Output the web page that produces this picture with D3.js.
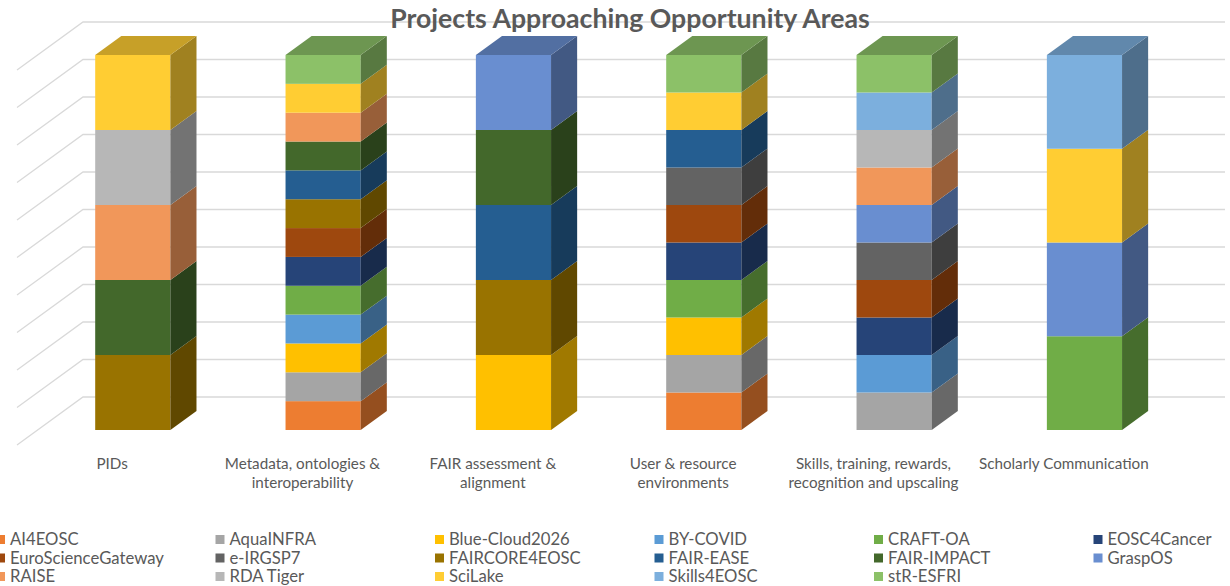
<!DOCTYPE html>
<html><head><meta charset="utf-8">
<script src="https://cdn.jsdelivr.net/npm/d3@7"></script>
<style>body{margin:0;background:#fff;} svg{display:block;}</style>
</head><body>
<svg id="chart" width="1230" height="586"></svg>
<script>
// ---------- DATA ----------
const categories = [
  "PIDs",
  "Metadata, ontologies & interoperability",
  "FAIR assessment & alignment",
  "User & resource environments",
  "Skills, training, rewards, recognition and upscaling",
  "Scholarly Communication"
];
const categoryLines = [
  ["PIDs"],
  ["Metadata, ontologies &", "interoperability"],
  ["FAIR assessment &", "alignment"],
  ["User & resource", "environments"],
  ["Skills, training, rewards,", "recognition and upscaling"],
  ["Scholarly Communication"]
];
const seriesNames = [
  "AI4EOSC", "AquaINFRA", "Blue-Cloud2026", "BY-COVID", "CRAFT-OA", "EOSC4Cancer",
  "EuroScienceGateway", "e-IRGSP7", "FAIRCORE4EOSC", "FAIR-EASE", "FAIR-IMPACT", "GraspOS",
  "RAISE", "RDA Tiger", "SciLake", "Skills4EOSC", "stR-ESFRI"
];
const seriesColors = [
  "#ED7D31", "#A5A5A5", "#FFC000", "#5B9BD5", "#70AD47", "#264478",
  "#9E480E", "#636363", "#997300", "#255E91", "#43682B", "#698ED0",
  "#F1975A", "#B7B7B7", "#FFCD33", "#7CAFDD", "#8CC168"
];
// values per category (order of categories)
const AI4EOSC            = [0, 1, 0, 1, 0, 0];
const AquaINFRA          = [0, 1, 0, 1, 1, 0];
const BlueCloud2026      = [0, 1, 1, 1, 0, 0];
const BYCOVID            = [0, 1, 0, 0, 1, 0];
const CRAFTOA            = [0, 1, 0, 1, 0, 1];
const EOSC4Cancer        = [0, 1, 0, 1, 1, 0];
const EuroScienceGateway = [0, 1, 0, 1, 1, 0];
const eIRGSP7            = [0, 0, 0, 1, 1, 0];
const FAIRCORE4EOSC      = [1, 1, 1, 0, 0, 0];
const FAIREASE           = [0, 1, 1, 1, 0, 0];
const FAIRIMPACT         = [1, 1, 1, 0, 0, 0];
const GraspOS            = [0, 0, 1, 0, 1, 1];
const RAISE              = [1, 1, 0, 0, 1, 0];
const RDATiger           = [1, 0, 0, 0, 1, 0];
const SciLake            = [1, 1, 0, 1, 0, 1];
const Skills4EOSC        = [0, 0, 0, 0, 1, 1];
const stRESFRI           = [0, 1, 0, 1, 1, 0];
const seriesValues = [AI4EOSC, AquaINFRA, BlueCloud2026, BYCOVID, CRAFTOA, EOSC4Cancer,
  EuroScienceGateway, eIRGSP7, FAIRCORE4EOSC, FAIREASE, FAIRIMPACT, GraspOS,
  RAISE, RDATiger, SciLake, Skills4EOSC, stRESFRI];
const tickValues = [0, 0.1, 0.2, 0.3, 0.4, 0.5, 0.6, 0.7, 0.8, 0.9, 1];
const titleText = "Projects Approaching Opportunity Areas";

// ---------- LAYOUT ----------
const svg = d3.select("#chart");
const FONT = "Lato, 'Liberation Sans', sans-serif";
const TEXT = "#595959";
const floor = {x0: 17, x1: 1159, dx: 66, dy: -48};   // front edge + full depth projection
const barT = [0.3125, 0.708];                          // bar depth range (0 front .. 1 back wall)

const x = d3.scaleBand().domain(categories).range([floor.x0, floor.x1])
  .paddingInner(0.605).paddingOuter(0.3025);
const y = d3.scaleLinear().domain([0, 1]).range([445, 70]);
const proj = (px, v, t) => [px + floor.dx * t, y(v) + floor.dy * t];

// gridlines (left wall + back wall)
const grid = svg.append("g").attr("stroke", "#D9D9D9").attr("stroke-width", 1.3).attr("fill", "none");
tickValues.forEach(v => {
  const a = proj(floor.x0, v, 0), b = proj(floor.x0, v, 1), c = proj(floor.x1, v, 1);
  grid.append("path").attr("d", `M${a[0]},${a[1]}L${b[0]},${b[1]}L${c[0]},${c[1]}`);
});

// stack
const rows = categories.map((c, i) => {
  const r = {category: c};
  seriesNames.forEach((s, j) => r[s] = seriesValues[j][i]);
  return r;
});
const stacked = d3.stack().keys(seriesNames).offset(d3.stackOffsetExpand)(rows);
const color = d3.scaleOrdinal().domain(seriesNames).range(seriesColors);

const ddx = floor.dx * (barT[1] - barT[0]);
const ddy = floor.dy * (barT[1] - barT[0]);
const bars = svg.append("g");
categories.forEach((c, i) => {
  const g = bars.append("g");
  const xl = x(c) + floor.dx * barT[0];
  const xr = xl + x.bandwidth();
  let topSeg = null;
  stacked.forEach(layer => {
    const d = layer[i];
    if (d[1] - d[0] <= 1e-9) return;
    const yb = y(d[0]) + floor.dy * barT[0];
    const yt = y(d[1]) + floor.dy * barT[0];
    const col = color(layer.key);
    g.append("rect").attr("x", xl).attr("y", yt).attr("width", xr - xl).attr("height", yb - yt)
      .attr("fill", col);
    g.append("path")
      .attr("d", `M${xr},${yb}L${xr},${yt}L${xr + ddx},${yt + ddy}L${xr + ddx},${yb + ddy}Z`)
      .attr("fill", d3.rgb(col).darker(1.3));
    topSeg = {yt, col};
  });
  if (topSeg) {
    const yt = topSeg.yt;
    g.append("path")
      .attr("d", `M${xl},${yt}L${xr},${yt}L${xr + ddx},${yt + ddy}L${xl + ddx},${yt + ddy}Z`)
      .attr("fill", d3.rgb(topSeg.col).darker(0.7));
  }
});

// fit helper
function fitSize(str, weight, target) {
  const t = svg.append("text").attr("font-family", FONT).attr("font-weight", weight)
    .attr("font-size", 20).text(str);
  const w = t.node().getComputedTextLength();
  t.remove();
  return 20 * target / w;
}

// category labels
const catSize = fitSize("Scholarly Communication", 400, 170);
const labels = svg.append("g").attr("font-family", FONT).attr("font-size", catSize)
  .attr("fill", TEXT).attr("text-anchor", "middle");
categories.forEach((c, i) => {
  const cx = x(c) + x.bandwidth() / 2;
  const t = labels.append("text").attr("x", cx).attr("y", 469);
  categoryLines[i].forEach((ln, k) => {
    t.append("tspan").attr("x", cx).attr("dy", k === 0 ? 0 : 18.5).text(ln);
  });
});

// title
const titleSize = fitSize(titleText, 700, 480);
svg.append("text").attr("x", 630).attr("y", 28).attr("text-anchor", "middle")
  .attr("font-family", FONT).attr("font-weight", 700).attr("font-size", titleSize)
  .attr("fill", TEXT).text(titleText);

// legend
const legSize = fitSize("EuroScienceGateway", 400, 154);
const legend = svg.append("g").attr("font-family", FONT).attr("font-size", legSize).attr("fill", TEXT);
const colX = d3.scaleLinear().domain([0, 1]).range([-4, 215.5]);
const rowY = d3.scaleLinear().domain([0, 1]).range([545, 563.5]);
seriesNames.forEach((s, j) => {
  const col = j % 6, row = Math.floor(j / 6);
  const lx = colX(col), ly = rowY(row);
  legend.append("rect").attr("x", lx).attr("y", ly - 10).attr("width", 9).attr("height", 9)
    .attr("fill", color(s));
  legend.append("text").attr("x", lx + 14).attr("y", ly).text(s);
});
</script>
</body></html>
